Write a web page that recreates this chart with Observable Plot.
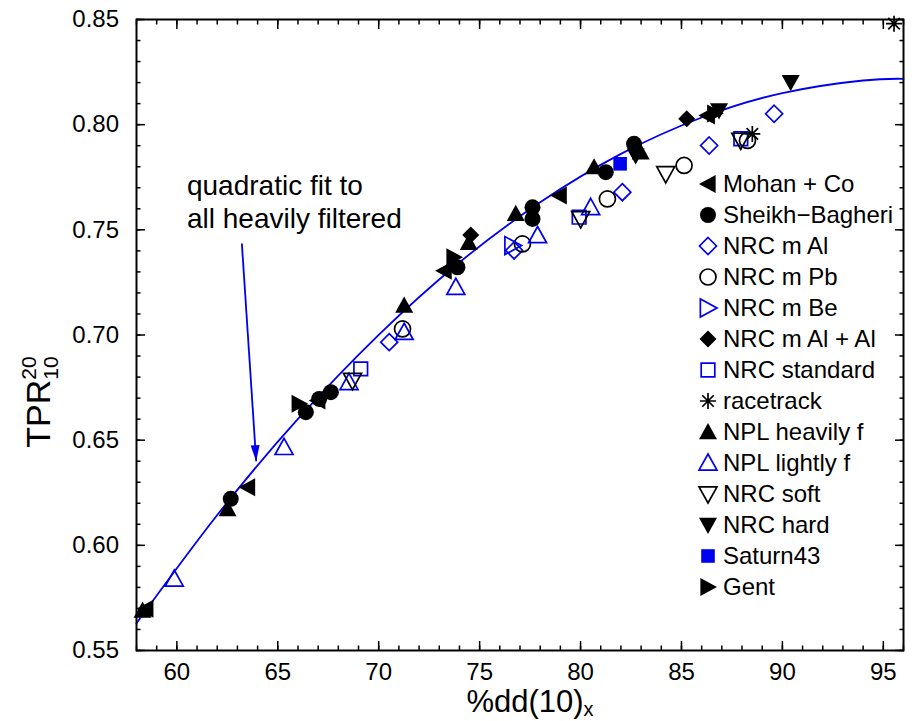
<!DOCTYPE html>
<html><head><meta charset="utf-8">
<script src="https://cdn.jsdelivr.net/npm/d3@7"></script>
<script src="https://cdn.jsdelivr.net/npm/@observablehq/plot@0.6"></script>
<style>
body{margin:0;background:#fff;}
#wrap{position:relative;width:914px;height:721px;font-family:"Liberation Sans",Arial,sans-serif;}
#legend{position:absolute;left:697px;top:168px;}
.row{height:31.05px;display:flex;align-items:center;font-size:24px;color:#000;white-space:nowrap;}
.row svg{margin-right:4px;}
</style></head><body><div id="wrap"></div><script>
// ---------- data ----------
const mohanX = [58.46, 63.50, 66.98, 73.24, 78.94, 86.28];
const mohanY = [0.5698, 0.6276, 0.6688, 0.7306, 0.7663, 0.8043];
const sheikhX = [62.67, 66.39, 67.05, 67.63, 73.90, 77.62, 77.62, 81.25, 82.65];
const sheikhY = [0.6221, 0.6633, 0.6696, 0.6728, 0.7322, 0.7607, 0.7552, 0.7774, 0.7909];
const nrcAlX = [70.52, 76.71, 82.07, 86.37, 89.59];
const nrcAlY = [0.6966, 0.7402, 0.7679, 0.7901, 0.8052];
const nrcPbX = [71.18, 77.12, 81.33, 85.13, 88.27];
const nrcPbY = [0.7029, 0.7433, 0.7647, 0.7806, 0.7925];
const nrcBeX = [76.63];
const nrcBeY = [0.7425];
const nrcAlAlX = [74.56, 85.26];
const nrcAlAlY = [0.7475, 0.8028];
const nrcStdX = [69.11, 79.93, 87.94];
const nrcStdY = [0.6839, 0.7560, 0.7933];
const raceX = [88.51, 95.53];
const raceY = [0.7956, 0.8480];
const nplHeavyX = [58.30, 62.51, 71.26, 74.46, 76.79, 80.67, 82.98];
const nplHeavyY = [0.5690, 0.6173, 0.7140, 0.7438, 0.7576, 0.7798, 0.7869];
const nplLightX = [59.87, 65.31, 68.53, 71.26, 73.82, 77.87, 80.50];
const nplLightY = [0.5840, 0.6466, 0.6775, 0.7013, 0.7227, 0.7473, 0.7607];
const nrcSoftX = [68.70, 80.01, 84.22, 87.94];
const nrcSoftY = [0.6783, 0.7552, 0.7766, 0.7925];
const nrcHardX = [82.73, 86.86, 90.41];
const nrcHardY = [0.7853, 0.8067, 0.8202];
const saturnX = [81.96];
const saturnY = [0.7814];
const gentX = [66.06, 73.73, 86.65];
const gentY = [0.6673, 0.7370, 0.8053];

// quadratic fit curve
const fitX = [58, 62, 66, 70, 74, 78, 82, 86, 90, 94, 96];
const fitY = [0.563, 0.6144, 0.6601, 0.7001, 0.7345, 0.7631, 0.7861, 0.8034, 0.8150, 0.8210, 0.8218];

// annotation
const annotText = "quadratic fit to\nall heavily filtered";
const annotX = 60.5, annotY = 0.7637;
const arrowFrom = [63.22, 0.7435];
const arrowTo = [63.93, 0.6400];

// ticks
const xTicks = [60, 65, 70, 75, 80, 85, 90, 95];
const yTicks = [0.55, 0.60, 0.65, 0.70, 0.75, 0.80, 0.85];
const xMinor = d3.range(58, 96.5, 1);
const yMinor = d3.range(55, 85.5, 1).map(d => d / 100);

// ---------- symbols ----------
function poly(pts){return {draw(ctx,size){const k=Math.sqrt(size/Math.PI);ctx.moveTo(pts[0][0]*k,pts[0][1]*k);for(let i=1;i<pts.length;i++)ctx.lineTo(pts[i][0]*k,pts[i][1]*k);ctx.closePath();}};}
const symLeft = poly([[-1,0],[0.85,-1],[0.85,1]]);
const symRight = poly([[1,0],[-0.85,-1],[-0.85,1]]);
const symUp = poly([[0,-1],[1,0.8],[-1,0.8]]);
const symDown = poly([[0,1],[1,-0.8],[-1,-0.8]]);
const symDiamond = poly([[0,-1],[1,0],[0,1],[-1,0]]);
const symSquare = poly([[-0.8,-0.8],[0.8,-0.8],[0.8,0.8],[-0.8,0.8]]);
const symCircle = {draw(ctx,size){const k=Math.sqrt(size/Math.PI);ctx.moveTo(k,0);ctx.arc(0,0,k,0,2*Math.PI);ctx.closePath();}};
const symStar = {draw(ctx,size){const k=Math.sqrt(size/Math.PI);const d=k*0.72;
  ctx.moveTo(0,-k);ctx.lineTo(0,k);ctx.moveTo(-k,0);ctx.lineTo(k,0);
  ctx.moveTo(-d,-d);ctx.lineTo(d,d);ctx.moveTo(-d,d);ctx.lineTo(d,-d);}};
const symHead = poly([[0,0],[-0.28,-1],[0.28,-1]]);

const BLUE = "#0000f0";
const series = [
  {name:"Mohan + Co", xs:mohanX, ys:mohanY, sym:symLeft, r:9, fill:"#000"},
  {name:"Sheikh\u2212Bagheri", xs:sheikhX, ys:sheikhY, sym:symCircle, r:8, fill:"#000"},
  {name:"NRC m Al", xs:nrcAlX, ys:nrcAlY, sym:symDiamond, r:8.5, stroke:BLUE},
  {name:"NRC m Pb", xs:nrcPbX, ys:nrcPbY, sym:symCircle, r:8, stroke:"#000"},
  {name:"NRC m Be", xs:nrcBeX, ys:nrcBeY, sym:symRight, r:9, stroke:BLUE},
  {name:"NRC m Al + Al", xs:nrcAlAlX, ys:nrcAlAlY, sym:symDiamond, r:8.5, fill:"#000"},
  {name:"NRC standard", xs:nrcStdX, ys:nrcStdY, sym:symSquare, r:8.5, stroke:BLUE},
  {name:"racetrack", xs:raceX, ys:raceY, sym:symStar, r:8, stroke:"#000"},
  {name:"NPL heavily f", xs:nplHeavyX, ys:nplHeavyY, sym:symUp, r:9, fill:"#000"},
  {name:"NPL lightly f", xs:nplLightX, ys:nplLightY, sym:symUp, r:9, stroke:BLUE},
  {name:"NRC soft", xs:nrcSoftX, ys:nrcSoftY, sym:symDown, r:9, stroke:"#000"},
  {name:"NRC hard", xs:nrcHardX, ys:nrcHardY, sym:symDown, r:9, fill:"#000"},
  {name:"Saturn43", xs:saturnX, ys:saturnY, sym:symSquare, r:8.5, fill:BLUE},
  {name:"Gent", xs:gentX, ys:gentY, sym:symRight, r:9, fill:"#000"}
];

const W=914,H=721,ML=136,MR=11,MT=19,MB=71;
const sx=(W-ML-MR)/(96-58), sy=(H-MT-MB)/(0.85-0.55);
const adx=(arrowTo[0]-arrowFrom[0])*sx, ady=-(arrowTo[1]-arrowFrom[1])*sy;
const headRot=-Math.atan2(adx,ady)*180/Math.PI;

const dotMarks = series.map(s => Plot.dot(s.xs.map((x,i)=>({x, y:s.ys[i]})), {
  x:"x", y:"y", symbol:s.sym, r:s.r,
  fill: s.fill || "none", stroke: s.stroke || "none", strokeWidth: s.stroke ? 1.7 : 0
}));

const plot = Plot.plot({
  width:W, height:H, marginLeft:ML, marginRight:MR, marginTop:MT, marginBottom:MB,
  x:{domain:[58,96]}, y:{domain:[0.55,0.85]},
  style:{fontFamily:"'Liberation Sans', Arial, sans-serif", fontSize:"24px", color:"#000", background:"#fff"},
  marks:[
    Plot.line(fitX.map((x,i)=>({x,y:fitY[i]})), {x:"x", y:"y", stroke:BLUE, strokeWidth:1.8, curve:"natural"}),
    Plot.link([0], {x1:()=>arrowFrom[0], y1:()=>arrowFrom[1], x2:()=>arrowTo[0], y2:()=>arrowTo[1], stroke:BLUE, strokeWidth:1.8}),
    Plot.dot([0], {x:()=>arrowTo[0], y:()=>arrowTo[1], symbol:symHead, r:16, fill:BLUE, stroke:"none", rotate:headRot}),
    Plot.text([annotText], {x:()=>annotX, y:()=>annotY, text:d=>d, fontSize:28, textAnchor:"start", lineHeight:1.16, fill:"#000"}),
    ...dotMarks,
    Plot.axisX({ticks:xTicks, tickSize:-9, tickPadding:21, tickFormat:d=>String(d), label:null, strokeWidth:1.5, fontSize:24}),
    Plot.axisX({ticks:xMinor, tickSize:-4.5, tickFormat:()=>"", label:null, strokeWidth:1.5}),
    Plot.axisX({anchor:"top", ticks:xTicks, tickSize:-9, tickFormat:()=>"", label:null, strokeWidth:1.5}),
    Plot.axisX({anchor:"top", ticks:xMinor, tickSize:-4.5, tickFormat:()=>"", label:null, strokeWidth:1.5}),
    Plot.axisY({ticks:yTicks, tickSize:-9, tickPadding:26.5, tickFormat:d3.format(".2f"), label:null, strokeWidth:1.5, fontSize:24}),
    Plot.axisY({ticks:yMinor, tickSize:-4.5, tickFormat:()=>"", label:null, strokeWidth:1.5}),
    Plot.axisY({anchor:"right", ticks:yTicks, tickSize:-9, tickFormat:()=>"", label:null, strokeWidth:1.5}),
    Plot.axisY({anchor:"right", ticks:yMinor, tickSize:-4.5, tickFormat:()=>"", label:null, strokeWidth:1.5}),
    Plot.frame({stroke:"#000", strokeWidth:2})
  ]
});

const wrap = document.getElementById("wrap");
wrap.appendChild(plot);

// axis titles with sub/superscripts
const svg = d3.select(plot);
const xt = svg.append("text").attr("x", 530).attr("y", 712).attr("text-anchor","middle")
  .attr("font-size", 31).attr("font-family","'Liberation Sans', Arial, sans-serif").attr("fill","#000");
xt.append("tspan").text("%dd(10)");
xt.append("tspan").attr("font-size", 20).attr("dy", 4).text("x");

const yt = svg.append("text").attr("transform","translate(50,402) rotate(-90)").attr("text-anchor","middle")
  .attr("font-size", 34).attr("font-family","'Liberation Sans', Arial, sans-serif").attr("fill","#000");
yt.append("tspan").text("TPR");
yt.append("tspan").attr("font-size", 21).attr("dy", -14).text("20");
yt.append("tspan").attr("font-size", 21).attr("dx", -23.4).attr("dy", 22).text("10");

// legend
const leg = document.createElement("div");
leg.id = "legend";
for (const s of series) {
  const row = document.createElement("div");
  row.className = "row";
  const p = d3.path();
  s.sym.draw(p, s.r*s.r*Math.PI);
  row.innerHTML = `<svg width="22" height="22" viewBox="-11 -11 22 22"><path d="${p}" fill="${s.fill||'none'}" stroke="${s.stroke||'none'}" stroke-width="${s.stroke?1.7:0}"/></svg><span>${s.name}</span>`;
  leg.appendChild(row);
}
wrap.appendChild(leg);
</script></body></html>
